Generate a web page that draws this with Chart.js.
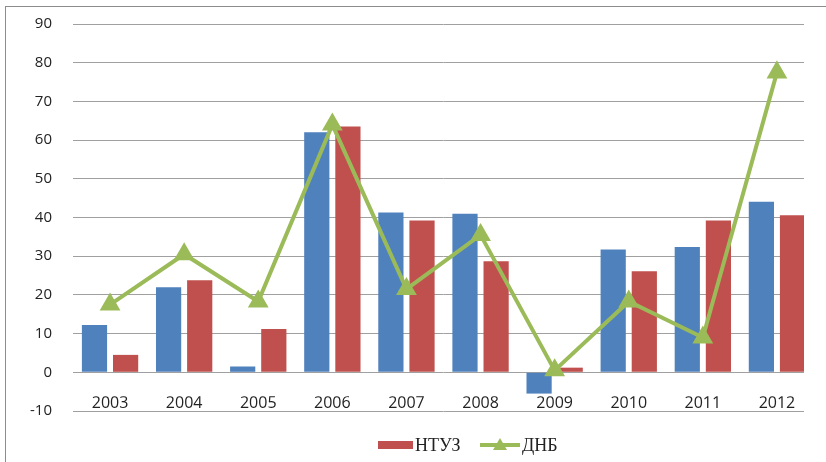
<!DOCTYPE html>
<html>
<head>
<meta charset="utf-8">
<script src="https://cdn.jsdelivr.net/npm/chart.js@4/dist/chart.umd.min.js"></script>
<style>
  html, body { margin: 0; padding: 0; background: #fff; overflow: hidden; }
  #frame { position: absolute; left: 5px; top: 6px; width: 830px; height: 470px;
           border-left: 1px solid #8c8c8c; border-top: 1px solid #8c8c8c; }
  /* the source picture is cut off just past the last gridline */
  #wrap { position: absolute; left: 0; top: 0; width: 804px; height: 462px; overflow: hidden; }
</style>
</head>
<body>
<div id="frame"></div>
<div id="wrap"><canvas id="chart" width="826" height="462"></canvas></div>
<script>
// ── Data ──────────────────────────────────────────────────────────────────────
const years = ['2003', '2004', '2005', '2006', '2007', '2008', '2009', '2010', '2011', '2012']
const blueSeries = [12.2, 22.0, 1.5, 62.0, 41.3, 41.0, -5.5, 31.7, 32.4, 44.1]
const ntuz = [4.5, 23.8, 11.2, 63.5, 39.2, 28.7, 1.2, 26.1, 39.2, 40.6]
const dnb = [17.5, 30.5, 18.3, 64.0, 21.5, 35.5, 0.5, 18.3, 9.0, 77.5]
const yTicks = [-10, 0, 10, 20, 30, 40, 50, 60, 70, 80, 90]

const BLUE = '#4f81bd'
const RED = '#c0504d'
const GREEN = '#9bbb59'

// ── Legend drawn by hand: box for НТУЗ, line + triangle for ДНБ ──────────────
const customLegend = {
    id: 'customLegend',
    afterDraw(chart) {
        const ctx = chart.ctx
        const y = 445
        ctx.save()
        ctx.font = '18px "Liberation Serif", serif'
        ctx.textBaseline = 'middle'
        ctx.fillStyle = RED
        ctx.fillRect(378, y - 4, 35, 8)
        ctx.fillStyle = '#222'
        ctx.fillText('НТУЗ', 415, y + 1)

        ctx.strokeStyle = GREEN
        ctx.lineWidth = 4
        ctx.beginPath()
        ctx.moveTo(480, y)
        ctx.lineTo(520, y)
        ctx.stroke()
        ctx.fillStyle = GREEN
        ctx.beginPath()
        ctx.moveTo(500, y - 7)
        ctx.lineTo(507, y + 5)
        ctx.lineTo(493, y + 5)
        ctx.closePath()
        ctx.fill()
        ctx.fillStyle = '#222'
        ctx.fillText('ДНБ', 522, y + 1)
        ctx.restore()
    },
}

new Chart(document.getElementById('chart'), {
    data: {
        labels: years,
        datasets: [
            {
                type: 'line',
                label: 'ДНБ',
                data: dnb,
                borderColor: GREEN,
                backgroundColor: GREEN,
                borderWidth: 4,
                pointStyle: 'triangle',
                pointRadius: 8,
                pointHoverRadius: 8,
                tension: 0,
                order: 0,
            },
            {
                type: 'bar',
                label: '',
                data: blueSeries,
                backgroundColor: BLUE,
                categoryPercentage: 0.84,
                barPercentage: 0.81,
                order: 1,
            },
            {
                type: 'bar',
                label: 'НТУЗ',
                data: ntuz,
                backgroundColor: RED,
                categoryPercentage: 0.84,
                barPercentage: 0.81,
                order: 1,
            },
        ],
    },
    options: {
        responsive: false,
        animation: false,
        layout: { padding: { left: 0, right: 6, top: 24, bottom: 51 } },
        plugins: {
            legend: { display: false },
            tooltip: { enabled: false },
        },
        scales: {
            x: {
                position: 'bottom',
                grid: { display: false, drawTicks: false },
                border: { display: false },
                // labels sit just under the zero line, above the -10 gridline
                ticks: {
                    color: '#222',
                    font: { family: '"Open Sans", sans-serif', size: 16 },
                    padding: -17,
                },
            },
            y: {
                min: -10,
                max: 90,
                afterBuildTicks(scale) {
                    scale.ticks = yTicks.map(v => ({ value: v }))
                },
                afterFit(scale) { scale.width = 73 },
                // invisible tick marks push the labels left without adding top padding
                grid: {
                    color: '#a0a0a0',
                    lineWidth: 1,
                    drawTicks: true,
                    tickLength: 16,
                    tickColor: 'rgba(0,0,0,0)',
                },
                border: { display: false },
                ticks: {
                    color: '#222',
                    font: { family: '"Open Sans", sans-serif', size: 15 },
                    padding: 5,
                },
            },
        },
    },
    plugins: [customLegend],
})
</script>
</body>
</html>
